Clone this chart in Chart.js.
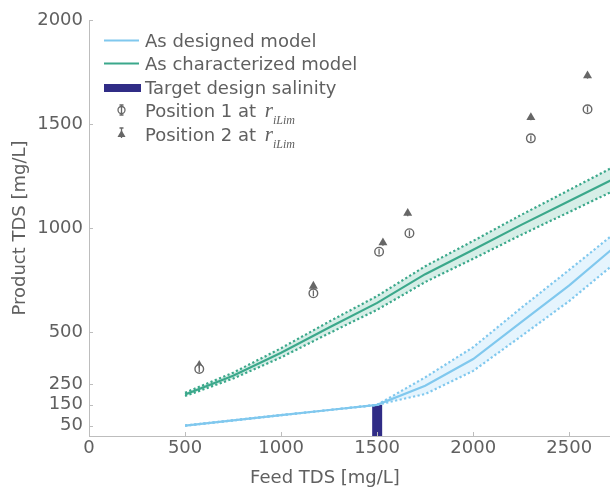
<!DOCTYPE html>
<html>
<head>
<meta charset="utf-8">
<script src="https://cdn.jsdelivr.net/npm/chart.js@4.4.1/dist/chart.umd.min.js"></script>
<style>
  html, body { margin: 0; padding: 0; background: #fff; }
  #wrap { width: 610px; height: 488px; }
</style>
</head>
<body>
<div id="wrap"><canvas id="chart" width="610" height="488"></canvas></div>
<script>
// feed salinity grid of the two models [mg/L]
const modelFeed = [500, 750, 1000, 1250, 1500, 1750, 2000, 2250, 2500, 2750];

// as designed model: centre and band
const designedMid = [50, 75, 100, 125, 150, 242, 370, 548, 724, 920];
const designedUpper = [50, 75, 100, 125, 150, 282, 427, 616, 799, 985];
const designedLower = [50, 75, 100, 125, 150, 202, 313, 480, 649, 840];

// as characterized model: centre and band
const characterizedMid = [200, 290, 400, 522, 640, 778, 895, 1015, 1130, 1245];
const characterizedUpper = [208, 304, 422, 550, 673, 816, 938, 1063, 1183, 1303];
const characterizedLower = [192, 276, 378, 494, 607, 740, 852, 967, 1077, 1187];

// target design salinity
const targetFeed = 1500;
const targetProduct = 150;

// measurements
const pos1Feed = [574, 1168, 1510, 1668, 2300, 2595];
const pos1Product = [322, 686, 886, 975, 1431, 1571];
const pos1Err = [14, 14, 14, 14, 14, 14];
const pos2Feed = [574, 1168, 1530, 1659, 2300, 2595];
const pos2Product = [340, 721, 929, 1071, 1532, 1732];
const pos2Err = [14, 14, 14, 14, 14, 14];

// axes
const xTicks = [0, 500, 1000, 1500, 2000, 2500];
const yTicks = [50, 150, 250, 500, 1000, 1500, 2000];
const xTitle = 'Feed TDS [mg/L]';
const yTitle = 'Product TDS [mg/L]';

const legendLabels = [
  'As designed model',
  'As characterized model',
  'Target design salinity',
  'Position 1 at ',
  'Position 2 at ',
];

const FONT = "'DejaVu Sans', sans-serif";
const TEXT = '#606060';
const AXIS = '#bdbdbd';
const BLUE = '#80c8ee';
const BLUE_FILL = '#e5f4fd';
const GREEN = '#3ba88b';
const GREEN_FILL = '#d6eee7';
const NAVY = '#302c86';
const GREY = '#676767';

const toPoints = (xs, ys) => xs.map((x, i) => ({ x: x, y: ys[i] }));

const dotted = (color) => ({
  borderColor: color,
  borderWidth: 2.2,
  borderDash: [2.2, 2.4],
  pointRadius: 0,
  tension: 0,
});

// inward tick marks, placed by the scales
const tickMarks = {
  id: 'tickMarks',
  afterDraw(chart) {
    const ctx = chart.ctx;
    const xs = chart.scales.x;
    const ys = chart.scales.y;
    const area = chart.chartArea;
    ctx.save();
    ctx.strokeStyle = AXIS;
    ctx.lineWidth = 1;
    ctx.beginPath();
    for (const t of xs.ticks) {
      const px = Math.round(xs.getPixelForValue(t.value)) + 0.5;
      ctx.moveTo(px, area.bottom);
      ctx.lineTo(px, area.bottom - 4);
    }
    for (const t of ys.ticks) {
      const py = Math.round(ys.getPixelForValue(t.value)) + 0.5;
      ctx.moveTo(area.left, py);
      ctx.lineTo(area.left + 4, py);
    }
    ctx.stroke();
    ctx.restore();
  },
};

// vertical error bars for the measured points
const errorBars = {
  id: 'errorBars',
  afterDatasetsDraw(chart) {
    const ctx = chart.ctx;
    const ys = chart.scales.y;
    ctx.save();
    chart.data.datasets.forEach((ds, i) => {
      if (!ds.errors) return;
      const meta = chart.getDatasetMeta(i);
      ctx.strokeStyle = GREY;
      ctx.lineWidth = 1.3;
      meta.data.forEach((pt, j) => {
        const v = ds.data[j].y;
        const e = ds.errors[j];
        ctx.beginPath();
        ctx.moveTo(pt.x, ys.getPixelForValue(v - e));
        ctx.lineTo(pt.x, ys.getPixelForValue(v + e));
        ctx.stroke();
      });
    });
    ctx.restore();
  },
};

function drawSubscriptLabel(ctx, label, x, y) {
  ctx.font = '18px ' + FONT;
  ctx.fillText(label, x, y);
  let px = x + ctx.measureText(label).width + 3;
  ctx.font = 'italic 21px "Liberation Serif", serif';
  ctx.fillText('r', px, y);
  px += ctx.measureText('r').width;
  ctx.font = 'italic 12px "Liberation Serif", serif';
  ctx.fillText('iLim', px, y + 7);
}

const sketchLegend = {
  id: 'sketchLegend',
  afterDraw(chart) {
    const ctx = chart.ctx;
    const x0 = 104, x1 = 139, tx = 145;
    const base = [47, 70, 94, 117, 141];
    ctx.save();
    ctx.lineCap = 'butt';

    ctx.strokeStyle = BLUE;
    ctx.lineWidth = 2;
    ctx.beginPath();
    ctx.moveTo(x0, base[0] - 6.5);
    ctx.lineTo(x1, base[0] - 6.5);
    ctx.stroke();

    ctx.strokeStyle = GREEN;
    ctx.beginPath();
    ctx.moveTo(x0, base[1] - 6.5);
    ctx.lineTo(x1, base[1] - 6.5);
    ctx.stroke();

    ctx.fillStyle = NAVY;
    ctx.fillRect(x0, base[2] - 10, x1 - x0 + 2, 8);

    // circle marker
    const mx = 121.5;
    ctx.strokeStyle = GREY;
    ctx.fillStyle = '#fff';
    ctx.lineWidth = 1.3;
    ctx.beginPath();
    ctx.arc(mx, base[3] - 7, 3.5, 0, Math.PI * 2);
    ctx.fill();
    ctx.stroke();
    ctx.beginPath();
    ctx.moveTo(mx, base[3] - 12);
    ctx.lineTo(mx, base[3] - 2);
    ctx.moveTo(mx - 2, base[3] - 12);
    ctx.lineTo(mx + 2, base[3] - 12);
    ctx.moveTo(mx - 2, base[3] - 2);
    ctx.lineTo(mx + 2, base[3] - 2);
    ctx.stroke();

    // triangle marker
    const ty = base[4] - 7;
    ctx.fillStyle = GREY;
    ctx.beginPath();
    ctx.moveTo(mx, ty - 4);
    ctx.lineTo(mx + 4, ty + 3);
    ctx.lineTo(mx - 4, ty + 3);
    ctx.closePath();
    ctx.fill();
    ctx.beginPath();
    ctx.moveTo(mx, ty - 6);
    ctx.lineTo(mx, ty + 4);
    ctx.moveTo(mx - 2, ty - 6);
    ctx.lineTo(mx + 2, ty - 6);
    ctx.stroke();

    ctx.fillStyle = TEXT;
    ctx.textBaseline = 'alphabetic';
    ctx.textAlign = 'left';
    ctx.font = '18px ' + FONT;
    ctx.fillText(legendLabels[0], tx, base[0]);
    ctx.fillText(legendLabels[1], tx, base[1]);
    ctx.fillText(legendLabels[2], tx, base[2]);
    drawSubscriptLabel(ctx, legendLabels[3], tx, base[3]);
    drawSubscriptLabel(ctx, legendLabels[4], tx, base[4]);

    // x axis title
    ctx.font = '18px ' + FONT;
    ctx.textAlign = 'center';
    ctx.fillText(xTitle, 325, 483);
    ctx.restore();
  },
};

const datasets = [
  {
    label: 'designed upper',
    data: toPoints(modelFeed, designedUpper),
    ...dotted(BLUE),
    fill: '+1',
    backgroundColor: BLUE_FILL,
  },
  {
    label: 'designed lower',
    data: toPoints(modelFeed, designedLower),
    ...dotted(BLUE),
    fill: false,
  },
  {
    label: legendLabels[0],
    data: toPoints(modelFeed, designedMid),
    borderColor: BLUE,
    borderWidth: 2.2,
    pointRadius: 0,
    fill: false,
  },
  {
    label: 'characterized upper',
    data: toPoints(modelFeed, characterizedUpper),
    ...dotted(GREEN),
    fill: '+1',
    backgroundColor: GREEN_FILL,
  },
  {
    label: 'characterized lower',
    data: toPoints(modelFeed, characterizedLower),
    ...dotted(GREEN),
    fill: false,
  },
  {
    label: legendLabels[1],
    data: toPoints(modelFeed, characterizedMid),
    borderColor: GREEN,
    borderWidth: 2.2,
    pointRadius: 0,
    fill: false,
  },
  {
    label: legendLabels[2],
    data: [
      { x: targetFeed, y: 0 },
      { x: targetFeed, y: targetProduct },
    ],
    borderColor: NAVY,
    borderWidth: 10,
    borderCapStyle: 'butt',
    pointRadius: 0,
    fill: false,
  },
  {
    label: legendLabels[3],
    data: toPoints(pos1Feed, pos1Product),
    errors: pos1Err,
    showLine: false,
    pointStyle: 'circle',
    pointRadius: 4.3,
    pointBorderWidth: 1.4,
    pointBorderColor: GREY,
    pointBackgroundColor: '#fff',
  },
  {
    label: legendLabels[4],
    data: toPoints(pos2Feed, pos2Product),
    errors: pos2Err,
    showLine: false,
    pointStyle: 'triangle',
    pointRadius: 5.2,
    pointBorderWidth: 0,
    pointBorderColor: GREY,
    pointBackgroundColor: GREY,
  },
];

new Chart(document.getElementById('chart'), {
  type: 'line',
  data: { datasets: datasets },
  options: {
    responsive: false,
    animation: false,
    layout: {
      autoPadding: false,
      padding: { top: 20, right: 0, left: 0, bottom: 0 },
    },
    plugins: {
      legend: { display: false },
      tooltip: { enabled: false },
      filler: { drawTime: 'beforeDatasetsDraw' },
    },
    scales: {
      x: {
        type: 'linear',
        min: 0,
        max: 2712,
        afterFit(scale) {
          scale.height = 52;
          scale.paddingLeft = 0;
          scale.paddingRight = 0;
        },
        afterBuildTicks(scale) {
          scale.ticks = xTicks.map((v) => ({ value: v }));
        },
        ticks: {
          color: TEXT,
          font: { family: FONT, size: 18 },
          padding: 2,
          maxRotation: 0,
          callback: (v) => String(v),
        },
        grid: { drawOnChartArea: false, drawTicks: false },
        border: { color: AXIS, width: 1 },
      },
      y: {
        type: 'linear',
        min: 0,
        max: 2000,
        afterFit(scale) {
          scale.width = 89;
        },
        afterBuildTicks(scale) {
          scale.ticks = yTicks.map((v) => ({ value: v }));
        },
        ticks: {
          color: TEXT,
          font: { family: FONT, size: 18 },
          padding: 6,
          callback: (v) => String(v),
        },
        grid: { drawOnChartArea: false, drawTicks: false },
        border: { color: AXIS, width: 1 },
        title: {
          display: true,
          text: yTitle,
          color: TEXT,
          font: { family: FONT, size: 18 },
          padding: { top: 10, bottom: 0 },
        },
      },
    },
  },
  plugins: [tickMarks, errorBars, sketchLegend],
});
</script>
</body>
</html>
